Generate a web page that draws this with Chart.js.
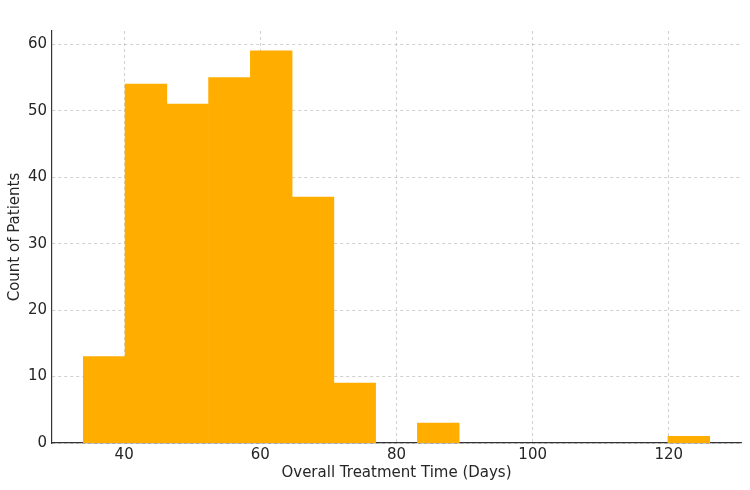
<!DOCTYPE html>
<html>
<head>
<meta charset="utf-8">
<script src="https://cdn.jsdelivr.net/npm/chart.js@4.4.0/dist/chart.umd.min.js"></script>
<style>
  html, body { margin: 0; padding: 0; background: #fff; }
  #wrap { width: 750px; height: 490px; }
</style>
</head>
<body>
<div id="wrap"><canvas id="chart" width="750" height="490"></canvas></div>
<script>
// histogram bin edges (days) and patient counts per bin
const binEdges = [34.0, 40.13, 46.27, 52.4, 58.53, 64.67, 70.8, 76.93, 83.07, 89.2, 95.33, 101.47, 107.6, 113.73, 119.87, 126.0];
const counts = [13, 54, 51, 55, 59, 37, 9, 0, 3, 0, 0, 0, 0, 0, 1];
const xTicks = [40, 60, 80, 100, 120];
const yTicks = [0, 10, 20, 30, 40, 50, 60];

const points = counts.map((c, i) => ({ x: (binEdges[i] + binEdges[i + 1]) / 2, y: c }));

const textColor = '#262626';
const gridStyle = {
  color: 'rgba(176,176,176,0.75)',
  lineWidth: 0.8,
  drawTicks: false,
  offset: false
};

const ctx = document.getElementById('chart').getContext('2d');
new Chart(ctx, {
  type: 'bar',
  data: {
    datasets: [{
      label: 'Patients',
      data: points,
      // empty bins are not painted
      backgroundColor: c => (c.raw && c.raw.y > 0 ? '#ffae00' : 'rgba(0,0,0,0)'),
      borderWidth: 0,
      barPercentage: 1,
      categoryPercentage: 1
    }]
  },
  options: {
    responsive: false,
    animation: false,
    layout: { padding: { top: 31, right: 9, left: 0, bottom: 0 } },
    plugins: { legend: { display: false }, tooltip: { enabled: false } },
    scales: {
      x: {
        type: 'linear',
        offset: false,
        min: 29.4,
        max: 130.6,
        afterBuildTicks: s => { s.ticks = xTicks.map(v => ({ value: v })); },
        afterFit: s => { s.height = 47; },
        grid: gridStyle,
        border: { color: '#333', width: 1.2, dash: [3, 3] },
        ticks: { color: textColor, font: { family: 'DejaVu Sans', size: 15 }, padding: 3, maxRotation: 0 },
        title: { display: true, text: 'Overall Treatment Time (Days)', color: textColor,
          font: { family: 'DejaVu Sans', size: 15 }, padding: { top: 8, bottom: 8 } }
      },
      y: {
        min: 0,
        max: 62,
        afterBuildTicks: s => { s.ticks = yTicks.map(v => ({ value: v })); },
        afterFit: s => { s.width = 52; },
        grid: gridStyle,
        border: { color: '#333', width: 1.2, dash: [3, 3] },
        ticks: { color: textColor, font: { family: 'DejaVu Sans', size: 15 }, padding: 5 },
        title: { display: true, text: 'Count of Patients', color: textColor,
          font: { family: 'DejaVu Sans', size: 15 }, padding: { top: 6, bottom: 6 } }
      }
    }
  }
});
</script>
</body>
</html>
